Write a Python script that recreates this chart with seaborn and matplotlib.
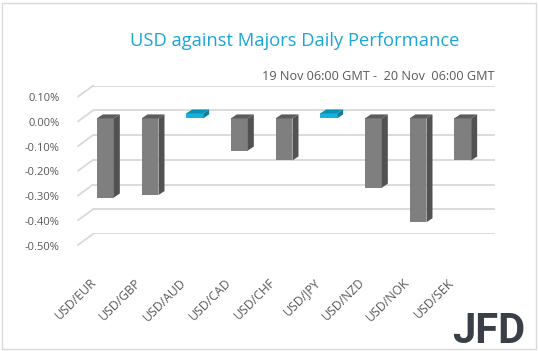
import numpy as np
import pandas as pd
import seaborn as sns
import matplotlib.pyplot as plt
from matplotlib.patches import Polygon, Rectangle
from matplotlib.transforms import ScaledTranslation

pairs = ['USD/EUR', 'USD/GBP', 'USD/AUD', 'USD/CAD', 'USD/CHF',
         'USD/JPY', 'USD/NZD', 'USD/NOK', 'USD/SEK']
changes = [-0.32, -0.31, 0.02, -0.13, -0.17, 0.02, -0.28, -0.42, -0.17]
yticks = [0.1, 0.0, -0.1, -0.2, -0.3, -0.4, -0.5]
ytick_labels = ['0.10%', '0.00%', '-0.10%', '-0.20%', '-0.30%', '-0.40%', '-0.50%']

title = 'USD against Majors Daily Performance'
subtitle = '19 Nov 06:00 GMT -  20 Nov  06:00 GMT'

df = pd.DataFrame({'pair': pairs, 'change': changes})
df['dir'] = np.where(df['change'] > 0, 'up', 'down')

front = {'up': '#19b2dc', 'down': '#7f7f7f'}
side = {'up': '#0a7f9f', 'down': '#525252'}
top = {'up': '#0c91b5', 'down': '#5c5c5c'}
grid_c = '#d9d9d9'
text_c = '#595959'

sns.set_style('white')
plt.rcParams['font.family'] = ['Open Sans', 'DejaVu Sans']

W, H = 539, 351
fig = plt.figure(figsize=(W / 100, H / 100), dpi=100)
fig.patches.append(Rectangle((2 / W, 2 / H), 1 - 5 / W, 1 - 5 / H, transform=fig.transFigure,
                             fill=False, edgecolor='#d9d9d9', lw=1))

ax = fig.add_axes([93 / W, (H - 234) / H, 402 / W, (234 - 85.7) / H])
ax.set_xlim(-0.5, len(pairs) - 0.5)
ax.set_ylim(-0.5, 0.1)

# pixel -> data unit conversion
px_x = (len(pairs)) / 402.0
px_y = 0.6 / (234 - 85.7)

# back wall gridlines plus perspective diagonals
for t in yticks:
    ax.axhline(t, color=grid_c, lw=1.3, zorder=0)
    ax.plot([-0.5, -0.5 - 15 * px_x], [t, t - 11 * px_y], color=grid_c, lw=1.3,
            clip_on=False, zorder=0)

sns.barplot(data=df, x='pair', y='change', hue='dir', palette=front, dodge=False,
            width=0.38, saturation=1, legend=False, ax=ax, zorder=2)

# fake 3d: shift front faces, add side and top faces
fdx, fdy = -10 * px_x, -8 * px_y
bdx, bdy = -4 * px_x, -4 * px_y
for p in list(ax.patches):
    if p.get_width() == 0 or np.isnan(p.get_height()):
        continue
    x0, w = p.get_x(), p.get_width()
    y0, h = p.get_y(), p.get_height()
    lo, hi = min(y0, y0 + h), max(y0, y0 + h)
    key = 'up' if h > 0 else 'down'
    p.set_x(x0 + fdx)
    p.set_y(y0 + fdy)
    p.set_edgecolor('none')
    x1 = x0 + w
    ax.add_patch(Polygon([(x1 + fdx, lo + fdy), (x1 + fdx, hi + fdy),
                          (x1 + bdx, hi + bdy), (x1 + bdx, lo + bdy)],
                         closed=True, facecolor=side[key], edgecolor='none', zorder=2))
    ax.add_patch(Polygon([(x0 + fdx, hi + fdy), (x1 + fdx, hi + fdy),
                          (x1 + bdx, hi + bdy), (x0 + bdx, hi + bdy)],
                         closed=True, facecolor=top[key], edgecolor='none', zorder=2))

sns.despine(ax=ax, left=True, bottom=True)
ax.set_xlabel('')
ax.set_ylabel('')
ax.set_yticks(yticks, ytick_labels)
ax.tick_params(axis='y', length=0, pad=24, labelsize=8, labelcolor=text_c)
for lab in ax.get_yticklabels():
    lab.set_transform(lab.get_transform() + ScaledTranslation(0, -0.115, fig.dpi_scale_trans))

ax.set_xticks(range(len(pairs)), pairs)
ax.tick_params(axis='x', length=0, pad=18, labelsize=8.8, labelcolor=text_c)
for lab in ax.get_xticklabels():
    lab.set_rotation(45)
    lab.set_ha('right')
    lab.set_va('top')
    lab.set_rotation_mode('anchor')
    lab.set_transform(lab.get_transform() + ScaledTranslation(-0.25, -0.17, fig.dpi_scale_trans))

fig.text(295 / W, 1 - 41 / H, title, ha='center', va='center', fontsize=13.2, color='#1ba6d8')
fig.text(494 / W, 1 - 76 / H, subtitle, ha='right', va='center', fontsize=9.1, color=text_c)
fig.text(525 / W, 1 - 343 / H, 'JFD', ha='right', va='baseline', fontsize=30, fontweight='bold',
         color='#3a3f47', family=['Roboto', 'DejaVu Sans'])

fig.savefig('out.png', dpi=100)
